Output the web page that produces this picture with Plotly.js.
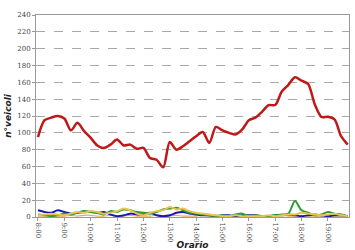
<!DOCTYPE html>
<html><head><meta charset="utf-8">
<script src="https://cdn.plot.ly/plotly-3.0.1.min.js"></script>
<style>body{margin:0;background:#fff}#c{width:355px;height:250px}</style>
</head><body><div id="c"></div>
<script>
const hourLabels = ["8:00","9:00","10:00","11:00","12:00","13:00","14:00","15:00","16:00","17:00","18:00","19:00"];
const slots = [0,1,2,3,4,5,6,7,8,9,10,11,12,13,14,15,16,17,18,19,20,21,22,23,24,25,26,27,28,29,30,31,32,33,34,35,36,37,38,39,40,41,42,43,44,45,46,47];
const red = [95,115,118,120,117,103,112,102,94,85,82,86,92,85,86,81,82,70,68,59,89,80,84,90,96,101,88,107,103,100,98,104,115,118,125,133,133,149,157,166,162,158,134,119,119,116,96,86];
const blue = [8,6,5,8,6,4,5,6,6,5,6,3,1,2,4,3,3,5,2,1,2,5,6,4,3,2,2,1,2,2,1,2,2,2,1,1,2,2,3,2,1,2,3,2,1,2,2,1];
const green = [3,2,1,2,4,3,5,7,6,5,3,7,6,9,8,6,5,4,6,9,10,11,8,5,4,3,2,1,2,1,3,4,1,2,1,1,2,3,4,19,8,5,2,3,6,4,3,1];
const yellow = [2,3,4,3,2,4,6,5,7,6,4,5,7,10,8,4,2,5,7,8,12,9,10,7,5,4,3,2,1,1,2,1,1,1,1,2,1,2,3,3,5,4,3,2,3,4,2,1];
const orange = [1,1,2,1,1,2,1,2,2,1,1,2,1,1,2,1,1,1,2,1,1,2,1,1,1,2,1,1,1,1,1,2,1,1,1,1,1,2,1,1,2,1,1,1,2,1,1,1];

const tickvals = hourLabels.map((_, i) => i * 4);
function tr(y, color, w) {
  return {x: slots, y: y, type: 'scatter', mode: 'lines',
    line: {color: color, width: w, shape: 'spline', smoothing: 0.8}, hoverinfo: 'none'};
}
const data = [
  tr(orange, '#F2A65A', 1.2),
  tr(blue, '#1A1AA8', 2),
  tr(green, '#2E9A2E', 2),
  tr(yellow, '#E6C450', 2),
  tr(red, '#C01818', 2.5)
];
const layout = {
  width: 355, height: 250,
  margin: {l: 36, r: 6, t: 15, b: 33},
  paper_bgcolor: '#fff', plot_bgcolor: '#fff',
  showlegend: false,
  xaxis: {
    range: [-0.3, 47.2], tickvals: tickvals, ticktext: hourLabels,
    tickangle: 90, tickfont: {family: 'DejaVu Serif', size: 7, color: '#444'},
    showgrid: false, zeroline: false, showline: true, linecolor: '#999', linewidth: 1, mirror: true,
    ticks: 'outside', ticklen: 3, tickcolor: '#999',
    title: {text: 'Orario', font: {family: 'DejaVu Sans', size: 9, color: '#222', weight: 'bold', style: 'italic'}, standoff: 2}
  },
  yaxis: {
    range: [0, 240], dtick: 20,
    tickfont: {family: 'DejaVu Serif', size: 7, color: '#444'},
    showgrid: true, gridcolor: '#a8a8a8', griddash: 'dash', gridwidth: 1,
    zeroline: false, showline: true, linecolor: '#999', linewidth: 1, mirror: true,
    ticks: 'outside', ticklen: 3, tickcolor: '#999',
    title: {text: 'n°veicoli', font: {family: 'DejaVu Sans', size: 9, color: '#222', weight: 'bold', style: 'italic'}, standoff: 4}
  }
};
Plotly.newPlot('c', data, layout, {staticPlot: true, displayModeBar: false});
</script></body></html>
